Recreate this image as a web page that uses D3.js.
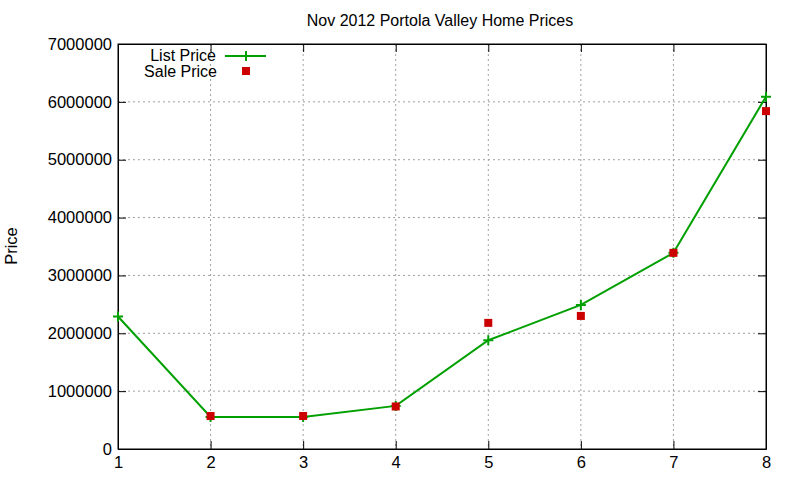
<!DOCTYPE html>
<html>
<head>
<meta charset="utf-8">
<script src="https://cdn.jsdelivr.net/npm/d3@7"></script>
<style>
  body { margin: 0; background: #fff; }
  text { font-family: "Liberation Sans", Arial, sans-serif; fill: #000; }
</style>
</head>
<body>
<div id="chart"></div>
<script>
// data
const listX = [1, 2, 3, 4, 5, 6, 7, 8];
const listPrice = [2290000, 555000, 555000, 745000, 1880000, 2490000, 3390000, 6090000];
const saleX = [2, 3, 4, 5, 6, 7, 8];
const salePrice = [570000, 570000, 735000, 2180000, 2300000, 3390000, 5840000];
const xTicks = [1, 2, 3, 4, 5, 6, 7, 8];
const yTicks = [0, 1000000, 2000000, 3000000, 4000000, 5000000, 6000000, 7000000];

const W = 800, H = 480;
const margin = {top: 44, right: 34, bottom: 31, left: 118};
const width = W - margin.left - margin.right;
const height = H - margin.top - margin.bottom;

const root = d3.select("#chart").append("svg")
  .attr("width", W).attr("height", H);

const svg = root.append("g")
  .attr("transform", `translate(${margin.left},${margin.top})`);

// scales
const x = d3.scaleLinear().domain([1, 8]).range([0, width]);
const y = d3.scaleLinear().domain([0, 7000000]).range([height, 0]);

// grid
svg.append("g").selectAll("line")
  .data(xTicks.slice(1, -1)).enter().append("line")
  .attr("x1", d => x(d)).attr("x2", d => x(d))
  .attr("y1", 0).attr("y2", height)
  .attr("stroke", "#a0a0a0").attr("stroke-dasharray", "2,3");

svg.append("g").selectAll("line")
  .data(yTicks.slice(1, -1)).enter().append("line")
  .attr("x1", 0).attr("x2", width)
  .attr("y1", d => y(d)).attr("y2", d => y(d))
  .attr("stroke", "#a0a0a0").attr("stroke-dasharray", "2,3");

// axes (gnuplot style: inward ticks, mirrored)
const left = svg.append("g")
  .call(d3.axisLeft(y).tickValues(yTicks).tickSizeInner(-8).tickSizeOuter(0).tickPadding(14).tickFormat(d3.format("d")));
const bottom = svg.append("g")
  .attr("transform", `translate(0,${height})`)
  .call(d3.axisBottom(x).tickValues(xTicks).tickSizeInner(-8).tickSizeOuter(0).tickPadding(14).tickFormat(d3.format("d")));
svg.append("g")
  .attr("transform", `translate(${width},0)`)
  .call(d3.axisRight(y).tickValues(yTicks).tickSizeInner(-8).tickSizeOuter(0).tickFormat(""));
svg.append("g")
  .call(d3.axisTop(x).tickValues(xTicks).tickSizeInner(-8).tickSizeOuter(0).tickFormat(""));

svg.selectAll(".domain").attr("stroke", "#000");
svg.selectAll(".tick line").attr("stroke", "#000");
left.selectAll("text").style("font-size", "16.5px").attr("x", -6);
bottom.selectAll("text").style("font-size", "16.5px").attr("y", 7);

// border
svg.append("rect")
  .attr("width", width).attr("height", height)
  .attr("fill", "none").attr("stroke", "#000");

// list price line
const line = d3.line()
  .x((d, i) => x(listX[i]))
  .y(d => y(d));

svg.append("path")
  .datum(listPrice)
  .attr("fill", "none")
  .attr("stroke", "#00a000")
  .attr("stroke-width", 2)
  .attr("d", line);

// plus markers
const plus = "M-5,0H5M0,-5V5";
svg.append("g").selectAll("path")
  .data(listPrice).enter().append("path")
  .attr("transform", (d, i) => `translate(${x(listX[i])},${y(d)})`)
  .attr("d", plus)
  .attr("stroke", "#00a000").attr("stroke-width", 2);

// sale price squares
svg.append("g").selectAll("rect")
  .data(salePrice).enter().append("rect")
  .attr("x", (d, i) => x(saleX[i]) - 4)
  .attr("y", d => y(d) - 4)
  .attr("width", 8).attr("height", 8)
  .attr("fill", "#cc0000");

// title
root.append("text")
  .attr("x", 440).attr("y", 26)
  .attr("text-anchor", "middle")
  .style("font-size", "16px")
  .text("Nov 2012 Portola Valley Home Prices");

// y label
root.append("text")
  .attr("transform", "translate(17,246) rotate(-90)")
  .attr("text-anchor", "middle")
  .style("font-size", "16.5px")
  .text("Price");

// legend
const legend = root.append("g");
legend.append("text")
  .attr("x", 216).attr("y", 61)
  .attr("text-anchor", "end")
  .style("font-size", "16px")
  .text("List Price");
legend.append("line")
  .attr("x1", 225).attr("x2", 266).attr("y1", 56).attr("y2", 56)
  .attr("stroke", "#00a000").attr("stroke-width", 2);
legend.append("path")
  .attr("transform", "translate(246,56)")
  .attr("d", plus)
  .attr("stroke", "#00a000").attr("stroke-width", 2);
legend.append("text")
  .attr("x", 217).attr("y", 77)
  .attr("text-anchor", "end")
  .style("font-size", "16px")
  .text("Sale Price");
legend.append("rect")
  .attr("x", 242).attr("y", 67).attr("width", 8).attr("height", 8)
  .attr("fill", "#cc0000");
</script>
</body>
</html>
